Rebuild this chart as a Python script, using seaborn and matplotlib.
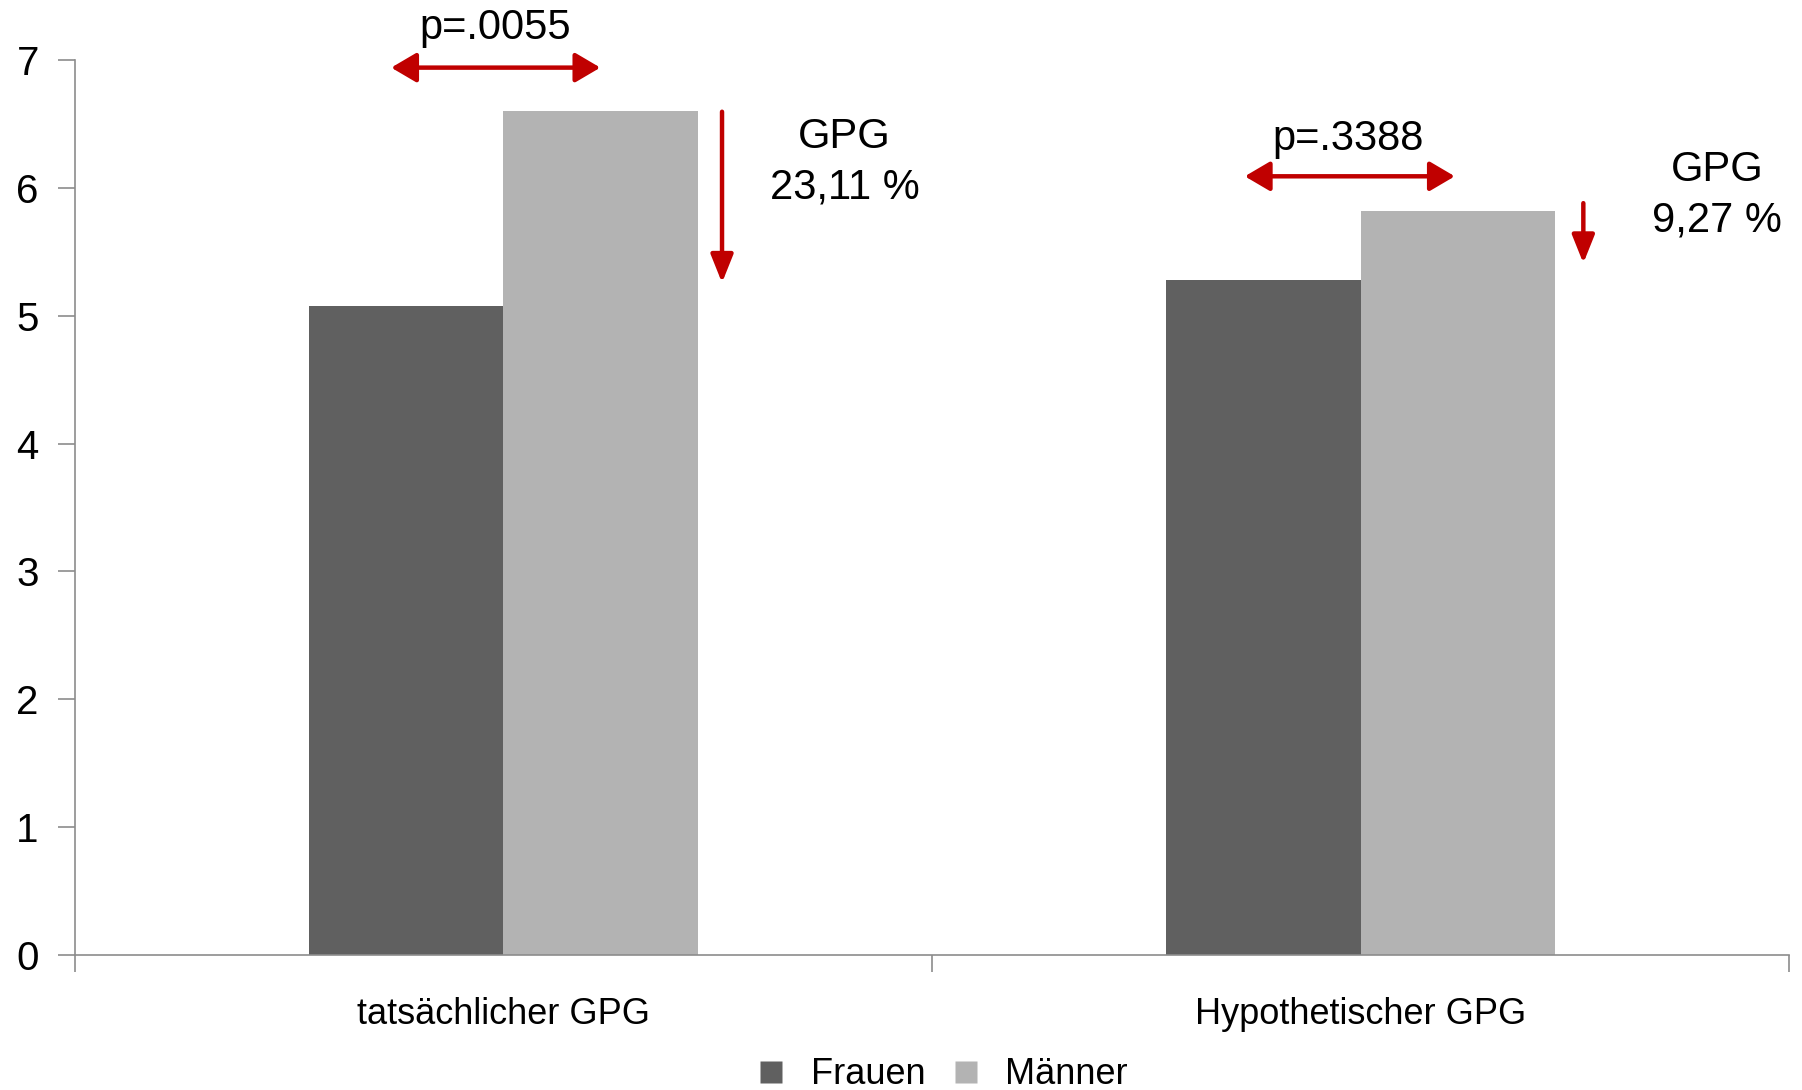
import matplotlib
matplotlib.use("Agg")
import matplotlib.pyplot as plt
from matplotlib.lines import Line2D
import seaborn as sns
import pandas as pd

# Mean values per group
categories = ["tatsächlicher GPG", "Hypothetischer GPG"]
groups = ["Frauen", "Männer"]
frauen = [5.075, 5.28]
maenner = [6.60, 5.82]
p_values = ["p=.0055", "p=.3388"]
gpg_labels = ["GPG\n23,11 %", "GPG\n9,27 %"]
y_ticks = [0, 1, 2, 3, 4, 5, 6, 7]

colors = {"Frauen": "#606060", "Männer": "#b3b3b3"}
red = "#c00000"

sns.set_style("white")
plt.rcParams["font.family"] = ["Liberation Sans", "DejaVu Sans"]
plt.rcParams["text.color"] = "black"
plt.rcParams["xtick.labelcolor"] = "black"
plt.rcParams["ytick.labelcolor"] = "black"

df = pd.DataFrame({
    "Kategorie": categories * 2,
    "Gruppe": [groups[0]] * 2 + [groups[1]] * 2,
    "Wert": frauen + maenner,
})

fig = plt.figure(figsize=(18.02, 10.9), dpi=100)
ax = fig.add_axes([0.0416, 0.1239, 0.9512, 0.8211])

sns.barplot(data=df, x="Kategorie", y="Wert", hue="Gruppe", order=categories,
            hue_order=groups, palette=colors, width=0.453, saturation=1,
            errorbar=None, ax=ax, legend=False)
for p in ax.patches:
    p.set_edgecolor("none")

ax.set_xlim(-0.5, 1.5)
ax.set_ylim(0, 7)
ax.set_yticks(y_ticks)
ax.set_xlabel("")
ax.set_ylabel("")

for s in ["top", "right"]:
    ax.spines[s].set_visible(False)
for s in ["left", "bottom"]:
    ax.spines[s].set_color("#8c8c8c")
    ax.spines[s].set_linewidth(1.2)

ax.tick_params(axis="y", direction="out", length=12, width=1.2, color="#8c8c8c",
               labelsize=29, pad=14, left=True)
ax.tick_params(axis="x", which="major", length=0, labelsize=26, pad=30)
ax.set_xticks([-0.5, 0.5, 1.5], minor=True)
ax.tick_params(axis="x", which="minor", direction="out", length=12, width=1.2,
               color="#8c8c8c", bottom=True)

# Significance and gap annotations
sig_x = [(-0.131, 0.113), (0.865, 1.110)]
sig_y = [6.94, 6.09]
sig_text_pos = [(-0.01, 7.25), (0.985, 6.38)]
gap_x = [0.255, 1.260]
gap_y = [(6.595, 5.257), (5.88, 5.41)]
gap_text_pos = [(0.398, 6.20), (1.416, 5.94)]

for i in range(2):
    ax.annotate("", xy=(sig_x[i][1], sig_y[i]), xytext=(sig_x[i][0], sig_y[i]),
                arrowprops=dict(arrowstyle="<|-|>,head_length=0.85,head_width=0.5",
                                color=red, lw=3.2, shrinkA=0, shrinkB=0,
                                mutation_scale=18),
                annotation_clip=False)
    ax.text(sig_text_pos[i][0], sig_text_pos[i][1], p_values[i], ha="center",
            va="center", fontsize=30, clip_on=False)
    ax.annotate("", xy=(gap_x[i], gap_y[i][1]), xytext=(gap_x[i], gap_y[i][0]),
                arrowprops=dict(arrowstyle="-|>,head_length=0.95,head_width=0.38",
                                color=red, lw=3.2, shrinkA=0, shrinkB=0,
                                mutation_scale=18),
                annotation_clip=False)
    ax.text(gap_text_pos[i][0], gap_text_pos[i][1], gpg_labels[i], ha="center",
            va="center", fontsize=30, linespacing=1.35, clip_on=False)

handles = [Line2D([], [], marker="s", linestyle="none", markersize=16,
                  markerfacecolor=colors[g], markeredgecolor="none") for g in groups]
fig.legend(handles, groups, loc="lower center", bbox_to_anchor=(0.522, -0.032),
           ncol=2, frameon=False, fontsize=26, handletextpad=0.6,
           columnspacing=0.6, handlelength=1.0)

fig.savefig("out.png", dpi=100)
